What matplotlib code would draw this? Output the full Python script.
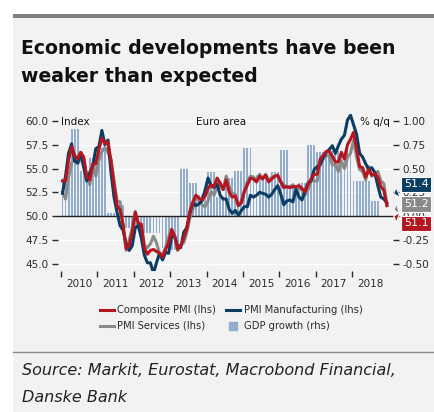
import numpy as np
import matplotlib
matplotlib.use('Agg')
import matplotlib.pyplot as plt
from matplotlib.patches import Rectangle
from matplotlib.lines import Line2D
from matplotlib.ticker import FixedLocator, NullFormatter, FormatStrFormatter

# monthly PMI, Jan 2010 - Dec 2018
composite = [53.7, 53.7, 55.9, 57.3, 56.4, 56.0, 56.7, 56.2, 54.1, 53.8, 55.5, 55.5,
             57.0, 58.2, 57.6, 57.8, 55.8, 53.3, 51.1, 50.7, 49.1, 46.6, 46.9, 48.3,
             50.4, 49.3, 49.1, 46.7, 46.0, 46.4, 46.5, 46.3, 46.1, 45.7, 46.5, 47.2,
             48.6, 47.9, 46.5, 46.9, 47.7, 48.7, 50.5, 51.5, 52.2, 51.9, 51.7, 52.1,
             52.9, 53.3, 53.1, 54.0, 53.5, 52.8, 53.8, 52.5, 52.0, 52.1, 51.1, 51.4,
             52.6, 53.3, 54.0, 53.9, 53.6, 54.2, 53.9, 54.3, 53.6, 53.9, 54.2, 54.3,
             53.6, 53.0, 53.1, 53.0, 53.1, 53.1, 53.2, 52.9, 52.6, 53.3, 53.9, 54.4,
             54.4, 56.0, 56.4, 56.8, 56.8, 56.3, 55.7, 55.7, 56.7, 56.0, 57.5, 58.1,
             58.8, 57.1, 55.2, 55.1, 54.1, 54.9, 54.3, 54.5, 54.1, 53.1, 52.7, 51.1]

manufacturing = [52.4, 54.2, 56.6, 57.6, 55.8, 55.6, 56.7, 55.1, 53.7, 54.6, 55.3, 57.1,
                 57.3, 59.0, 57.5, 58.0, 54.6, 52.0, 50.4, 49.0, 48.5, 47.1, 46.4, 46.9,
                 48.8, 49.0, 47.7, 45.9, 45.1, 45.1, 44.0, 45.1, 46.1, 45.4, 46.2, 46.1,
                 47.9, 47.9, 46.8, 46.7, 48.3, 48.8, 50.3, 51.4, 51.1, 51.3, 51.6, 52.7,
                 54.0, 53.2, 53.0, 53.4, 52.2, 51.8, 51.8, 50.7, 50.3, 50.6, 50.1, 50.6,
                 51.0, 51.0, 52.2, 52.0, 52.2, 52.5, 52.4, 52.3, 52.0, 52.3, 52.8, 53.2,
                 52.3, 51.2, 51.6, 51.7, 51.5, 52.8, 52.0, 51.7, 52.6, 53.5, 53.7, 54.9,
                 55.2, 55.4, 56.2, 56.7, 57.0, 57.4, 56.6, 57.4, 58.1, 58.5, 60.1, 60.6,
                 59.6, 58.6, 56.6, 56.2, 55.5, 54.9, 55.1, 54.6, 53.2, 52.0, 51.8, 51.4]

services = [52.5, 51.8, 54.1, 55.6, 56.0, 55.5, 56.0, 55.9, 54.1, 53.3, 55.4, 54.2,
            55.9, 56.8, 57.2, 56.7, 56.0, 53.7, 51.6, 51.5, 48.8, 46.4, 47.5, 48.8,
            50.5, 48.8, 49.2, 46.9, 46.7, 47.1, 47.9, 47.2, 46.1, 46.0, 46.7, 47.8,
            48.6, 47.9, 46.4, 47.0, 47.2, 48.3, 49.8, 50.7, 52.2, 51.6, 51.2, 51.0,
            51.6, 52.6, 52.2, 53.1, 53.2, 52.8, 54.2, 53.1, 52.4, 52.3, 51.1, 51.6,
            52.7, 53.7, 54.2, 54.1, 53.8, 54.4, 54.0, 54.4, 53.7, 54.1, 54.2, 54.2,
            53.6, 53.3, 53.1, 53.1, 53.3, 52.8, 52.9, 52.8, 52.2, 52.8, 53.8, 53.7,
            53.7, 55.5, 56.0, 56.4, 56.3, 55.4, 55.4, 54.7, 55.8, 55.0, 56.2, 56.6,
            58.0, 56.2, 54.9, 54.7, 53.8, 55.2, 54.2, 54.4, 54.7, 53.7, 53.4, 51.2]

# GDP growth % q/q, Q1 2010 - Q3 2018
gdp_qoq = [0.40, 0.92, 0.47, 0.61,
           0.72, 0.03, 0.12, -0.12,
           -0.14, -0.18, -0.18, -0.33,
           -0.36, 0.50, 0.35, 0.22,
           0.46, 0.20, 0.40, 0.47,
           0.72, 0.43, 0.40, 0.46,
           0.70, 0.30, 0.35, 0.75,
           0.67, 0.68, 0.68, 0.68,
           0.37, 0.37, 0.16]

years = list(range(2010, 2019))
end_labels = ['51.4', '51.2', '51.1']

RED = '#b4151f'
NAVY = '#0b3c61'
GREY = '#8a8a8a'
BAR = '#93adcc'
PANEL = '#f2f2f2'
TXT = '#2b2b2b'

t = 2010 + (np.arange(len(composite)) + 0.5) / 12.0
gdp_m = np.repeat(gdp_qoq, 3)
t_bar = t[:len(gdp_m)]

fig = plt.figure(figsize=(4.35, 4.12), dpi=100)
fig.patch.set_facecolor('white')
fig.add_artist(Rectangle((13 / 435, 0), 1, 1 - 18 / 412, transform=fig.transFigure,
                         facecolor=PANEL, edgecolor='none', zorder=0))
fig.add_artist(Rectangle((13 / 435, 1 - 18 / 412), 1, 4 / 412, transform=fig.transFigure,
                         facecolor='#7f7f7f', edgecolor='none', zorder=0))
fig.add_artist(Line2D([13 / 435, 1], [1 - 352 / 412] * 2, transform=fig.transFigure,
                      color='#8c8c8c', lw=1.0))

fig.text(21 / 435, 1 - 54 / 412, 'Economic developments have been', fontsize=13.6,
         color='#111111', va='baseline', weight='bold')
fig.text(21 / 435, 1 - 82 / 412, 'weaker than expected', fontsize=13.6,
         color='#111111', va='baseline', weight='bold')
fig.text(22 / 435, 1 - 375 / 412, 'Source: Markit, Eurostat, Macrobond Financial,',
         fontsize=11.5, style='italic', color='#222222', va='baseline')
fig.text(22 / 435, 1 - 402 / 412, 'Danske Bank',
         fontsize=11.5, style='italic', color='#222222', va='baseline')

ax = fig.add_axes([58 / 435, 1 - 271 / 412, 335 / 435, 156.7 / 412])
ax2 = ax.twinx()
ax.set_zorder(ax2.get_zorder() + 1)
ax.patch.set_visible(False)
ax2.set_facecolor(PANEL)

ylo, yhi = 44.24, 60.7
ax.set_ylim(ylo, yhi)
ax2.set_ylim((ylo - 50) / 10, (yhi - 50) / 10)
ax.set_xlim(2009.918, 2019.126)

ax2.bar(t_bar, gdp_m, width=0.62 / 12, color=BAR, edgecolor='none', zorder=2)
ax2.set_yticks(np.arange(-0.5, 1.01, 0.25))
ax2.yaxis.set_major_formatter(FormatStrFormatter('%.2f'))
ax2.grid(axis='y', color='white', lw=1.0, zorder=0)
ax2.set_axisbelow(True)

ax.axhline(50, color='#222222', lw=1.0, zorder=1)
ax.plot(t, services, color=GREY, lw=2.2, zorder=3, solid_joinstyle='round')
ax.plot(t, manufacturing, color=NAVY, lw=2.2, zorder=4, solid_joinstyle='round')
ax.plot(t, composite, color=RED, lw=2.2, zorder=5, solid_joinstyle='round')

ax.set_yticks(np.arange(45, 60.1, 2.5))
ax.yaxis.set_major_formatter(FormatStrFormatter('%.1f'))
ax.xaxis.set_major_locator(FixedLocator(years))
ax.xaxis.set_major_formatter(NullFormatter())
ax.xaxis.set_minor_locator(FixedLocator([y + 0.5 for y in years]))
ax.set_xticklabels([str(y) for y in years], minor=True)

for a in (ax, ax2):
    for s in a.spines.values():
        s.set_visible(False)
ax.tick_params(axis='y', length=4, width=1, color=TXT, labelsize=7.5, labelcolor=TXT, pad=3)
ax2.tick_params(axis='y', length=4, width=1, color=TXT, labelsize=7.5, labelcolor=TXT, pad=3)
ax.tick_params(axis='x', which='major', length=4, width=1, color=TXT)
ax.tick_params(axis='x', which='minor', length=0, labelsize=7.5, labelcolor=TXT, pad=6)

ax.text(2010.0, 59.85, 'Index', fontsize=7.5, color='#111111', va='center', ha='left')
ax.text(0.487, 59.85, 'Euro area', fontsize=7.5, color='#111111', va='center', ha='center',
        transform=ax.get_yaxis_transform())
ax.text(0.991, 59.85, '% q/q', fontsize=7.5, color='#111111', va='center', ha='right',
        transform=ax.get_yaxis_transform())

# end-value boxes, stacked at the right
box_y = [53.33, 51.25, 49.23]
tip_y = [52.2, 50.6, 50.1]
for lab, by, ty, col in zip(end_labels, box_y, tip_y, [NAVY, GREY, RED]):
    ax.annotate(lab, xy=(0.995, ty), xycoords=ax.get_yaxis_transform(),
                xytext=(1.069, by), textcoords=ax.get_yaxis_transform(),
                fontsize=8, color='white', ha='center', va='center',
                bbox=dict(boxstyle='square,pad=0.25', fc=col, ec='white', lw=0.8),
                arrowprops=dict(arrowstyle='wedge,tail_width=0.9', fc=col, ec='white', lw=0.6),
                annotation_clip=False, zorder=10)

handles = [Line2D([], [], color=RED, lw=2.2),
           Line2D([], [], color=GREY, lw=2.2),
           Line2D([], [], color=NAVY, lw=2.2),
           Line2D([], [], color=BAR, marker='s', ls='none', markersize=6)]
labels = ['Composite PMI (lhs)', 'PMI Services (lhs)',
          'PMI Manufacturing (lhs)', 'GDP growth (rhs)']
leg = fig.legend(handles, labels, loc='center', bbox_to_anchor=(231 / 435, 1 - 318 / 412),
                 ncol=2, frameon=False, fontsize=7.2, handlelength=1.4, handletextpad=0.35,
                 columnspacing=1.0, labelspacing=0.6, borderpad=0)
for txt in leg.get_texts():
    txt.set_color(TXT)

fig.savefig('out.png', dpi=100, facecolor=fig.get_facecolor())
